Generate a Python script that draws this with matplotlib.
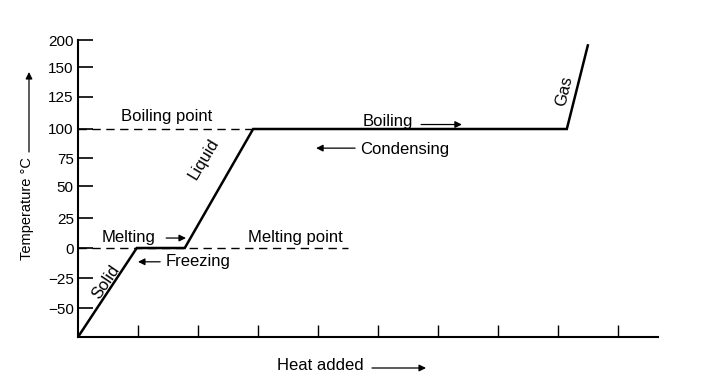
import numpy as np
import matplotlib
matplotlib.use("Agg")
import matplotlib.pyplot as plt

plt.rcParams['font.family'] = ['Liberation Sans', 'DejaVu Sans']

# Heating curve data: (heat added, temperature °C)
heat = [0.0, 0.98, 1.78, 2.92, 8.15, 8.5]
temp = [-75, 0, 0, 100, 100, 190]

y_ticks = [-50, -25, 0, 25, 50, 75, 100, 125, 150, 200]
y_ticklabels = ['−50', '−25', '0', '25', '50', '75', '100', '125', '150', '200']
x_ticks = [1, 2, 3, 4, 5, 6, 7, 8, 9]

melting_point = 0
boiling_point = 100

# Hand-drawn, uneven temperature axis: calibration of values to drawn height
cal_t = np.array([-75, -50, -25, 0, 25, 50, 75, 100, 125, 150, 200], dtype=float)
cal_h = -np.array([337, 308, 278, 248, 218, 186, 158, 129, 97, 67, 40], dtype=float)

def fwd(v):
    return np.interp(v, cal_t, cal_h)

def inv(v):
    return np.interp(v, cal_h, cal_t)

fig = plt.figure(figsize=(7.25, 3.9), dpi=100)
ax = fig.add_axes([78/725, 53/390, 580/725, 297/390])
ax.set_yscale('function', functions=(fwd, inv))
ax.set_xlim(0, 9.67)
ax.set_ylim(-75, 200)

ax.plot(heat, temp, color='black', lw=1.8, solid_joinstyle='miter')
ax.plot([0, 2.9], [boiling_point, boiling_point], color='black', lw=1.0, dashes=(6, 4))
ax.plot([0, 4.5], [melting_point, melting_point], color='black', lw=1.0, dashes=(6, 4))

for s in ['top', 'right']:
    ax.spines[s].set_visible(False)
for s in ['left', 'bottom']:
    ax.spines[s].set_linewidth(1.5)

ax.set_yticks(y_ticks)
ax.set_yticklabels(y_ticklabels)
ax.set_xticks(x_ticks)
ax.set_xticklabels([])
ax.tick_params(axis='y', direction='in', length=11, width=1.2, labelsize=11, pad=3)
ax.tick_params(axis='x', direction='in', length=9, width=1.0)
ax.yaxis.set_minor_locator(matplotlib.ticker.NullLocator())

fs = 12
ax.text(1.47, 110, 'Boiling point', ha='center', va='center', fontsize=fs)
ax.text(5.17, 106, 'Boiling', ha='center', va='center', fontsize=fs)
ax.text(5.45, 82, 'Condensing', ha='center', va='center', fontsize=fs)
ax.text(0.85, 8.5, 'Melting', ha='center', va='center', fontsize=fs)
ax.text(2.0, -11.5, 'Freezing', ha='center', va='center', fontsize=fs)
ax.text(3.63, 8.5, 'Melting point', ha='center', va='center', fontsize=fs)
ax.text(2.1, 74, 'Liquid', ha='center', va='center', fontsize=fs, rotation=59)
ax.text(0.47, -28, 'Solid', ha='center', va='center', fontsize=fs, rotation=56)
ax.text(8.1, 130, 'Gas', ha='center', va='center', fontsize=fs, rotation=77)

ap = dict(arrowstyle='-|>', lw=0.9, color='black', mutation_scale=10, shrinkA=0, shrinkB=0)
ax.annotate('', xy=(6.4, 103.5), xytext=(5.72, 103.5), arrowprops=ap)
ax.annotate('', xy=(3.97, 83.5), xytext=(4.62, 83.5), arrowprops=ap)
ax.annotate('', xy=(1.8, 8.3), xytext=(1.47, 8.3), arrowprops=ap)
ax.annotate('', xy=(1.0, -11.5), xytext=(1.37, -11.5), arrowprops=ap)

fig.text(320/725, 1 - 366/390, 'Heat added', ha='center', va='center', fontsize=fs)
ax.annotate('', xy=(426/725, 1 - 368/390), xytext=(372/725, 1 - 368/390),
            xycoords='figure fraction', textcoords='figure fraction', arrowprops=ap)
fig.text(27/725, 1 - 209/390, 'Temperature °C', ha='center', va='center',
         fontsize=10.5, rotation=90)
ax.annotate('', xy=(29/725, 1 - 72/390), xytext=(29/725, 1 - 152/390),
            xycoords='figure fraction', textcoords='figure fraction', arrowprops=ap)

fig.savefig('out.png', dpi=100)
